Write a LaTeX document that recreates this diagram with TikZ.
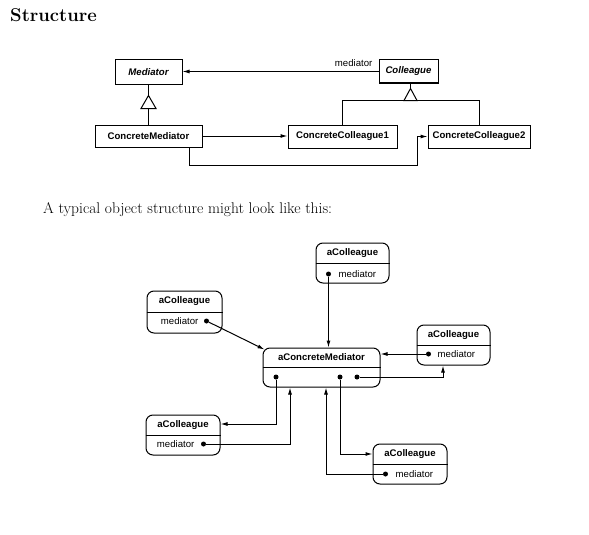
\documentclass[tikz,border=0pt]{standalone}
\usepackage{fontspec}
\setsansfont{Liberation Sans}
\usetikzlibrary{arrows.meta,calc}
\begin{document}
\begin{tikzpicture}[x=1pt,y=-1pt,
  cls/.style={draw, line width=1pt, inner sep=0pt, font=\sffamily\bfseries\fontsize{9.6}{11}\selectfont},
  obj/.style={draw, line width=1pt, rounded corners=7pt, inner sep=0pt},
  lbl/.style={inner sep=0pt, font=\sffamily\bfseries\fontsize{9.6}{11}\selectfont},
  attr/.style={inner sep=0pt, font=\sffamily\fontsize{9.6}{11}\selectfont},
  dot/.style={circle, fill, inner sep=0pt, minimum size=5pt},
  arr/.style={line width=1pt, -{Latex[length=7pt,width=4pt]}},
  ln/.style={line width=1pt}]
\useasboundingbox[fill=white] (0,0) rectangle (589,535);

% title and text
\node[anchor=base west, inner sep=0pt, font=\bfseries\fontsize{18.5}{20}\selectfont] (title) at (10,22) {Structure};
\node[anchor=base west, inner sep=0pt, font=\fontsize{15.5}{18}\selectfont] (para) at (43,213) {A typical object structure might look like this:};

% ---- class diagram ----
\node[cls, minimum width=67pt, minimum height=24pt] (med) at (148.5,72) {\itshape Mediator};
\node[cls, minimum width=59pt, minimum height=23pt] (col) at (408.5,71.5) {\itshape Colleague};
\node[cls, minimum width=107pt, minimum height=22pt] (cm) at (148.5,136) {ConcreteMediator};
\node[cls, minimum width=109pt, minimum height=23pt] (cc1) at (342.5,136.5) {ConcreteColleague1};
\node[cls, minimum width=102pt, minimum height=23pt] (cc2) at (479,136.5) {ConcreteColleague2};

% Mediator inheritance
\coordinate (ta) at ($(med.south)+(0,11)$);
\draw[ln] (med.south) -- (ta);
\draw[ln, fill=white] (ta) -- ++(7.5,13) -- ++(-15,0) -- cycle;
\draw[ln] ($(ta)+(0,13)$) -- (cm.north);

% Colleague inheritance
\coordinate (tb) at ($(col.south)+(2,5)$);
\draw[ln] ($(col.south)+(2,0)$) -- (tb);
\draw[ln, fill=white] (tb) -- ++(6.5,12) -- ++(-13,0) -- cycle;
\coordinate (tbb) at ($(tb)+(0,12)$);
\draw[ln] (cc1.north) |- (tbb) -| (cc2.north);

% associations
\draw[arr] (col.west) -- (col.west -| med.east);
\node[attr, anchor=south east] (lab) at ($(col.west)+(-6,-4.5)$) {mediator};
\draw[arr] (cm.east) -- (cm.east -| cc1.west);
\coordinate (j1) at (417,165);
\draw[arr] ($(cm.south)+(40.5,0)$) |- (j1) |- (cc2.west);

% ---- object diagram ----
% mediator
\node[obj, minimum width=117pt, minimum height=39pt] (m) at (321.5,367.5) {};
\draw[ln] (m.west) -- (m.east);
\node[lbl] (mt) at ($(m.north)!0.5!(m.center)$) {aConcreteMediator};
\node[dot] (m1) at ($(m.center)+(-45.5,9.5)$) {};
\node[dot] (m2) at ($(m.center)+(18.5,9.5)$) {};
\node[dot] (m3) at ($(m.center)+(35.5,9.5)$) {};

% top colleague
\node[obj, minimum width=73pt, minimum height=40pt] (o1) at (352.5,263) {};
\draw[ln] (o1.west) -- (o1.east);
\node[lbl] (o1t) at ($(o1.north)!0.5!(o1.center)$) {aColleague};
\node[dot] (o1d) at ($(o1.west)+(13,11)$) {};
\node[attr, anchor=base west] (o1a) at ($(o1d)+(10,3.5)$) {mediator};

% left colleague
\node[obj, minimum width=75pt, minimum height=42pt] (o2) at (184.5,312) {};
\draw[ln] (o2.west) -- (o2.east);
\node[lbl] (o2t) at ($(o2.north)!0.5!(o2.center)$) {aColleague};
\node[dot] (o2d) at ($(o2.east)+(-16,9)$) {};
\node[attr, anchor=base east] (o2a) at ($(o2d)+(-8,3.5)$) {mediator};

% right colleague
\node[obj, minimum width=73pt, minimum height=40pt] (o3) at (453.5,345) {};
\draw[ln] (o3.west) -- (o3.east);
\node[lbl] (o3t) at ($(o3.north)!0.5!(o3.center)$) {aColleague};
\node[dot] (o3d) at ($(o3.west)+(12,9)$) {};
\node[attr, anchor=base west] (o3a) at ($(o3d)+(9,3.5)$) {mediator};

% bottom-left colleague
\node[obj, minimum width=74pt, minimum height=40pt] (o4) at (183,435) {};
\draw[ln] (o4.west) -- (o4.east);
\node[lbl] (o4t) at ($(o4.north)!0.5!(o4.center)$) {aColleague};
\node[dot] (o4d) at ($(o4.east)+(-17,9)$) {};
\node[attr, anchor=base east] (o4a) at ($(o4d)+(-9,3.5)$) {mediator};

% bottom-right colleague
\node[obj, minimum width=74pt, minimum height=40pt] (o5) at (410,464) {};
\draw[ln] (o5.west) -- (o5.east);
\node[lbl] (o5t) at ($(o5.north)!0.5!(o5.center)$) {aColleague};
\node[dot] (o5d) at ($(o5.west)+(13,10)$) {};
\node[attr, anchor=base west] (o5a) at ($(o5d)+(10,3.5)$) {mediator};

% connectors
\draw[arr] (o1d) -- (o1d |- m.north);
\draw[arr] (o2d) -- ($(m.north west)+(2,2)$);
\draw[arr] (o3d) -- (o3d -| m.east);
\draw[arr] (m3) -| ($(o3.south)+(-10.5,0)$);
\draw[arr] (m1) |- ($(o4.east)+(0,-11)$);
\draw[arr] (o4d) -| ($(m.south)+(-31.5,0)$);
\draw[arr] (m2) |- ($(o5.west)+(0,-10)$);
\draw[arr] (o5d) -| ($(m.south)+(4.5,0)$);
\end{tikzpicture}
\end{document}
